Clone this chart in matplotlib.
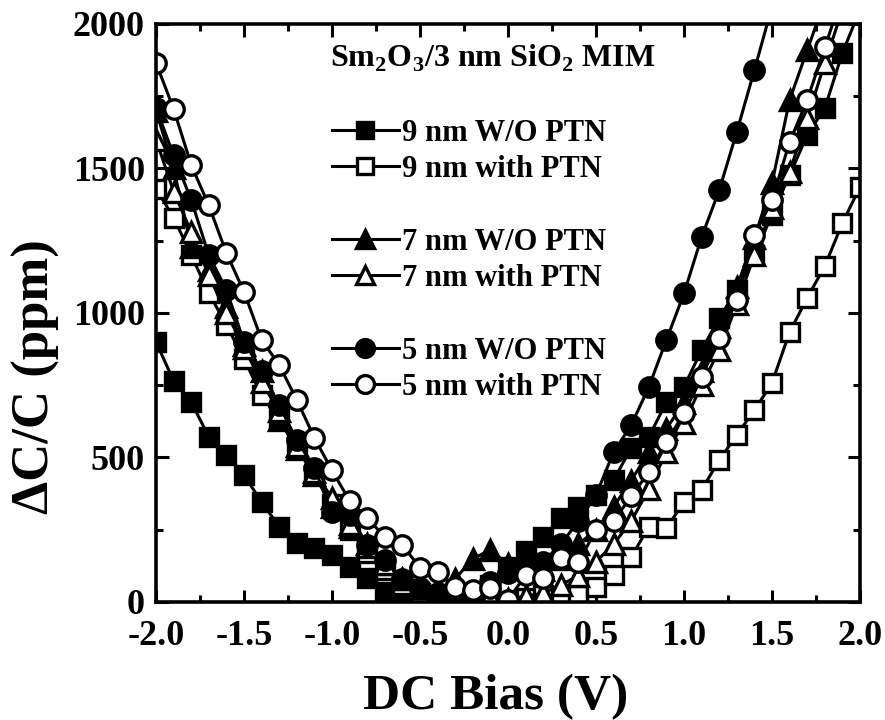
import numpy as np
import matplotlib
matplotlib.use("Agg")
import matplotlib.pyplot as plt
from matplotlib.lines import Line2D
from matplotlib.ticker import MultipleLocator, FormatStrFormatter

plt.rcParams['font.family'] = ['Liberation Serif', 'DejaVu Serif']
plt.rcParams['font.weight'] = 'bold'
plt.rcParams['mathtext.fontset'] = 'custom'
plt.rcParams['mathtext.rm'] = 'Liberation Serif:bold'
plt.rcParams['mathtext.bf'] = 'Liberation Serif:bold'

# DC bias sweep, 0.1 V steps
bias = np.round(np.arange(-2.0, 2.01, 0.1), 1)

# 9 nm Sm2O3, without post-treatment nitridation
sq_filled = [900, 765, 692, 571, 509, 439, 346, 260, 204, 187, 163, 121, 83, 35, 20, 10,
             5, 5, 10, 60, 120, 175, 225, 290, 330, 370, 422, 533, 571, 692, 745, 872,
             983, 1080, 1200, 1340, 1477, 1616, 1709, 1900, 2050]
# 9 nm Sm2O3, with PTN
sq_open = [1430, 1330, 1200, 1069, 958, 840, 716, 630, 550, 440, 340, 250, 170, 110, 60, 30,
           10, 0, 0, 0, 0, 14, 24, 20, 24, 52, 93, 156, 260, 256, 346, 388,
           491, 578, 664, 758, 934, 1052, 1163, 1311, 1437]
# 7 nm Sm2O3, without PTN
tri_filled = [1700, 1500, 1230, 1150, 1020, 890, 800, 630, 530, 440, 330, 260, 200, 130, 80, 50,
              30, 80, 150, 180, 130, 130, 110, 150, 200, 250, 330, 420, 520, 600, 690, 800,
              950, 1090, 1260, 1450, 1737, 1910, 2080, np.nan, np.nan]
# 7 nm Sm2O3, with PTN
tri_open = [1600, 1420, 1280, 1130, 1000, 880, 760, 660, 540, 450, 360, 270, 190, 130, 80, 50,
            40, 30, 20, 20, 10, 20, 30, 60, 90, 140, 200, 280, 390, 519, 620, 750,
            872, 1030, 1200, 1362, 1489, 1674, 1865, 2050, np.nan]
# 5 nm Sm2O3, without PTN
circ_filled = [1710, 1545, 1391, 1200, 1080, 900, 800, 680, 560, 463, 310, 300, 197, 145, 80, 50,
               30, 20, 30, 70, 100, 110, 140, 200, 280, 370, 519, 612, 744, 907, 1068, 1263,
               1425, 1627, 1841, 2060, np.nan, np.nan, np.nan, np.nan, np.nan]
# 5 nm Sm2O3, with PTN
circ_open = [1865, 1706, 1512, 1372, 1207, 1073, 907, 820, 699, 568, 455, 350, 290, 225, 197, 118,
             104, 52, 42, 48, 7, 93, 83, 152, 138, 249, 280, 366, 450, 553, 654, 779,
             913, 1045, 1270, 1391, 1592, 1737, 1920, 2100, np.nan]

labels = ['9 nm W/O PTN', '9 nm with PTN', '7 nm W/O PTN', '7 nm with PTN',
          '5 nm W/O PTN', '5 nm with PTN']

fig = plt.figure(figsize=(8.85, 7.2), dpi=100)
ax = fig.add_axes([0.1763, 0.1639, 0.7955, 0.8028])

series = [
    (sq_filled, 's', 'black', 12.5),
    (sq_open, 's', 'white', 12.5),
    (tri_filled, '^', 'black', 14),
    (tri_open, '^', 'white', 14),
    (circ_filled, 'o', 'black', 14),
    (circ_open, 'o', 'white', 14),
]

handles = []
for (vals, mk, fc, ms), lab in zip(series, labels):
    h, = ax.plot(bias, vals, color='black', lw=2.2, marker=mk, ms=ms,
                 mfc=fc, mec='black', mew=2.4, label=lab)
    handles.append(h)

ax.set_xlim(-2.0, 2.0)
ax.set_ylim(0, 2000)
ax.xaxis.set_major_locator(MultipleLocator(0.5))
ax.xaxis.set_minor_locator(MultipleLocator(0.25))
ax.yaxis.set_major_locator(MultipleLocator(500))
ax.yaxis.set_minor_locator(MultipleLocator(250))
ax.xaxis.set_major_formatter(FormatStrFormatter('%.1f'))
ax.tick_params(which='both', direction='in', top=True, right=True, width=2.2)
ax.tick_params(which='major', length=9, labelsize=26)
ax.tick_params(axis='x', which='major', pad=13)
ax.tick_params(axis='y', which='major', pad=8)
ax.tick_params(which='minor', length=5)
for s in ax.spines.values():
    s.set_linewidth(2.6)

ax.set_xlabel('DC Bias (V)', fontsize=37, fontweight='bold')
ax.xaxis.set_label_coords(0.483, -0.125)
ax.set_ylabel('ΔC/C (ppm)', fontsize=38, fontweight='bold')
ax.yaxis.set_label_coords(-0.137, 0.39)

ax.text(0.247, 0.94, r'Sm$_{2}$O$_{3}$/3 nm SiO$_{2}$ MIM', transform=ax.transAxes,
        fontsize=23, fontweight='bold', va='center', ha='left')

blank = Line2D([], [], linestyle='none', marker='none')
leg_handles = [handles[0], handles[1], blank, handles[2], handles[3], blank, handles[4], handles[5]]
leg_labels = [labels[0], labels[1], '', labels[2], labels[3], '', labels[4], labels[5]]
leg = ax.legend(leg_handles, leg_labels, loc='upper left', bbox_to_anchor=(0.232, 0.857),
                frameon=False, fontsize=22, handlelength=2.2, handletextpad=0.1,
                labelspacing=0.24, borderaxespad=0, markerscale=0.92)
for t in leg.get_texts():
    t.set_fontweight('bold')

fig.savefig('out.png', dpi=100)
